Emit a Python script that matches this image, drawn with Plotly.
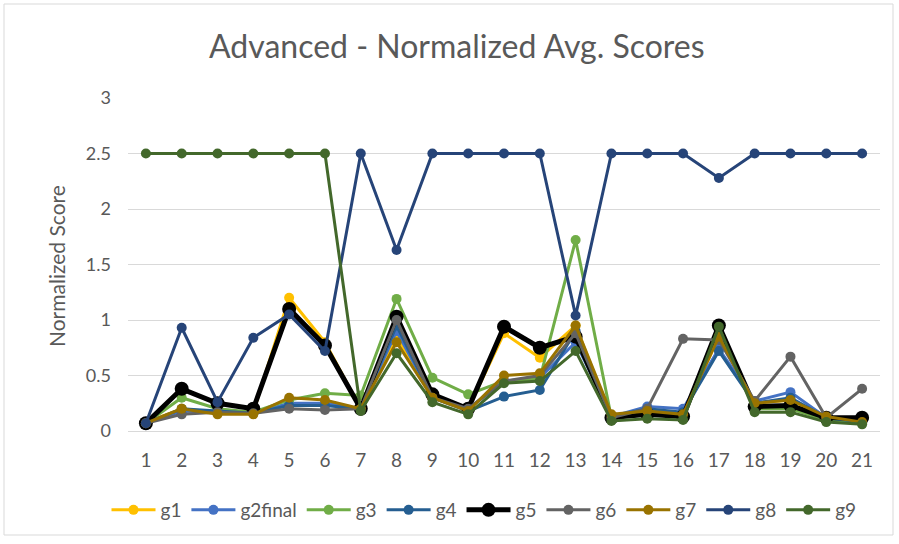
import plotly.graph_objects as go

# Question numbers along the x axis
questions = list(range(1, 22))

# Normalized average score per group
g1 = [0.08, 0.20, 0.17, 0.17, 1.20, 0.80, 0.20, 0.85, 0.30, 0.20, 0.88, 0.66, 0.95, 0.12, 0.17, 0.15, 0.85, 0.25, 0.28, 0.12, 0.10]
g2final = [0.07, 0.18, 0.17, 0.16, 0.25, 0.25, 0.20, 0.90, 0.30, 0.20, 0.45, 0.48, 0.80, 0.13, 0.22, 0.20, 0.74, 0.27, 0.35, 0.12, 0.08]
g3 = [0.07, 0.30, 0.20, 0.17, 0.28, 0.34, 0.32, 1.19, 0.48, 0.33, 0.45, 0.47, 1.72, 0.12, 0.15, 0.13, 0.90, 0.20, 0.20, 0.10, 0.07]
g4 = [0.07, 0.20, 0.18, 0.16, 0.23, 0.23, 0.20, 0.95, 0.30, 0.18, 0.31, 0.37, 0.90, 0.13, 0.20, 0.17, 0.72, 0.25, 0.30, 0.12, 0.08]
g5 = [0.07, 0.38, 0.25, 0.20, 1.10, 0.77, 0.20, 1.03, 0.33, 0.20, 0.94, 0.75, 0.85, 0.12, 0.15, 0.13, 0.95, 0.22, 0.23, 0.12, 0.12]
g6 = [0.07, 0.15, 0.17, 0.16, 0.20, 0.19, 0.20, 1.00, 0.30, 0.20, 0.45, 0.50, 0.88, 0.12, 0.20, 0.83, 0.82, 0.27, 0.67, 0.12, 0.38]
g7 = [0.07, 0.20, 0.15, 0.15, 0.30, 0.28, 0.20, 0.80, 0.30, 0.18, 0.50, 0.52, 0.95, 0.15, 0.18, 0.15, 0.85, 0.25, 0.28, 0.13, 0.08]
g8 = [0.07, 0.93, 0.26, 0.84, 1.05, 0.72, 2.50, 1.63, 2.50, 2.50, 2.50, 2.50, 1.04, 2.50, 2.50, 2.50, 2.28, 2.50, 2.50, 2.50, 2.50]
g9 = [2.50, 2.50, 2.50, 2.50, 2.50, 2.50, 0.18, 0.70, 0.26, 0.15, 0.43, 0.45, 0.72, 0.09, 0.11, 0.10, 0.94, 0.17, 0.17, 0.08, 0.06]

series_names = ["g1", "g2final", "g3", "g4", "g5", "g6", "g7", "g8", "g9"]
series_values = [g1, g2final, g3, g4, g5, g6, g7, g8, g9]
series_colors = ["#FFC000", "#4472C4", "#70AD47", "#255E91", "#000000",
                 "#636363", "#997300", "#264478", "#43682B"]

fig = go.Figure()
for name, vals, color in zip(series_names, series_values, series_colors):
    heavy = name == "g5"
    fig.add_trace(go.Scatter(
        x=questions, y=vals, name=name, mode="lines+markers",
        line=dict(color=color, width=5 if heavy else 3),
        marker=dict(color=color, size=14 if heavy else 10,
                    line=dict(color=color, width=0)),
    ))

text_color = "#595959"
grid_color = "#D9D9D9"

# plot area in pixels: left 128, right 880, top 98, bottom 431
L, R, T, B = 128, 880, 98, 431
W, H = 899, 544
pw, ph = R - L, B - T

def px_x(x):
    return (x - L) / pw

def px_y(y):
    return (B - y) / ph

fig.update_layout(
    width=W, height=H,
    margin=dict(l=L, r=W - R, t=T, b=H - B, autoexpand=False),
    paper_bgcolor="white", plot_bgcolor="white",
    font=dict(family="Lato", color=text_color),
    showlegend=True,
    legend=dict(orientation="h", xref="container", yref="container",
                x=484 / W, xanchor="center",
                y=1 - 510 / H, yanchor="middle",
                font=dict(size=19, color=text_color),
                itemwidth=44, tracegroupgap=0),
    xaxis=dict(range=[0.5, 21.5], tickmode="array", tickvals=questions,
               ticktext=[str(q) for q in questions],
               showgrid=False, zeroline=False, showline=True,
               linecolor=grid_color, linewidth=1,
               tickfont=dict(size=19, color=text_color),
               ticks="", ticklabelstandoff=12, fixedrange=True),
    yaxis=dict(range=[0, 3], tickmode="array",
               tickvals=[0, 0.5, 1, 1.5, 2, 2.5, 3],
               ticktext=["0", "0.5", "1", "1.5", "2", "2.5", "3"],
               showgrid=True, gridcolor=grid_color, gridwidth=1,
               zeroline=False, showline=False,
               tickfont=dict(size=18, color=text_color),
               ticks="", ticklabelstandoff=16, fixedrange=True),
    annotations=[
        dict(text="Advanced - Normalized Avg. Scores", xref="paper", yref="paper",
             x=px_x(457), y=px_y(46), xanchor="center", yanchor="middle",
             showarrow=False, font=dict(size=32, color=text_color)),
        dict(text="Normalized Score", xref="paper", yref="paper",
             x=px_x(56), y=px_y(266), xanchor="center", yanchor="middle",
             textangle=-90, showarrow=False,
             font=dict(size=21, color=text_color)),
    ],
    shapes=[
        dict(type="rect", xref="paper", yref="paper",
             x0=px_x(4), x1=px_x(893), y0=px_y(535), y1=px_y(4),
             line=dict(color=grid_color, width=1), fillcolor="rgba(0,0,0,0)",
             layer="below"),
    ],
)

fig.write_html("out.html")
